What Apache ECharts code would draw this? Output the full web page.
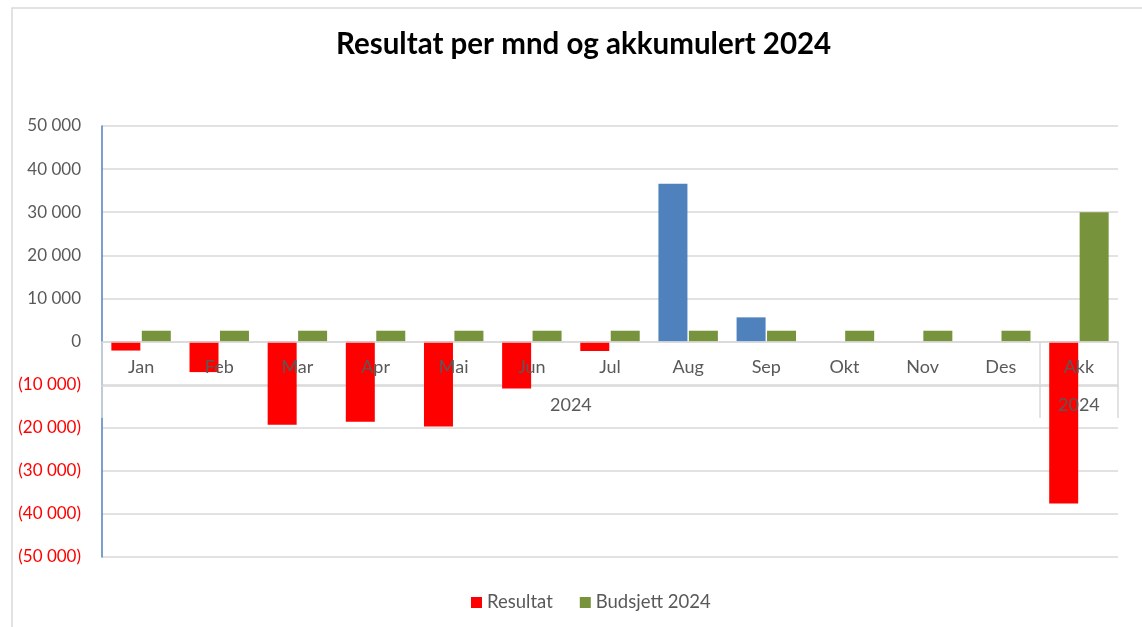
<!DOCTYPE html>
<html>
<head>
<meta charset="utf-8">
<script src="https://cdn.jsdelivr.net/npm/echarts@6/dist/echarts.min.js"></script>
<style>
  html, body { margin: 0; padding: 0; background: #fff; }
  #chart { width: 1142px; height: 627px; }
</style>
</head>
<body>
<div id="chart"></div>
<script>
// data
const months = ['Jan', 'Feb', 'Mar', 'Apr', 'Mai', 'Jun', 'Jul', 'Aug', 'Sep', 'Okt', 'Nov', 'Des', 'Akk'];
const resultat = [-2100, -7100, -19300, -18600, -19700, -10900, -2200, 36600, 5600, null, null, null, -37600];
const budsjett = [2500, 2500, 2500, 2500, 2500, 2500, 2500, 2500, 2500, 2500, 2500, 2500, 30000];
const groupLabels = ['2024', '2024'];
const groupCenters = [6, 12.5];
const groupBounds = [0, 12, 13];

const RED = '#FF0000';
const BLUE = '#4F81BD';
const GREEN = '#77933C';
const GRAY = '#595959';
const LINE = '#D9D9D9';
const FONT = 'Lato, "Open Sans", sans-serif';

function fmt(v) {
  const s = Math.abs(v).toString().replace(/\B(?=(\d{3})+(?!\d))/g, ' ');
  return v < 0 ? '(' + s + ')' : s;
}

const chart = echarts.init(document.getElementById('chart'));
chart.setOption({
  animation: false,
  textStyle: { fontFamily: FONT },
  graphic: [
    {
      type: 'rect',
      shape: { x: 12, y: 8, width: 1200, height: 700 },
      style: { fill: 'none', stroke: LINE, lineWidth: 1.5 },
      silent: true
    }
  ],
  title: {
    text: 'Resultat per mnd og akkumulert 2024',
    left: 331,
    top: 24,
    textStyle: { fontFamily: FONT, fontSize: 29.5, fontWeight: 'bold', color: '#000' }
  },
  legend: {
    bottom: 10,
    left: 466,
    icon: 'rect',
    itemWidth: 11,
    itemHeight: 11,
    itemGap: 27,
    textStyle: { fontFamily: FONT, fontSize: 18.5, color: GRAY },
    data: ['Resultat', 'Budsjett 2024']
  },
  grid: { left: 102, right: 24, top: 126, bottom: 70 },
  xAxis: [
    {
      // month level, sitting on the zero line; labels drawn over the bars
      type: 'category',
      data: months,
      position: 'bottom',
      offset: -215,
      axisLine: { onZero: false, lineStyle: { color: LINE, width: 1.5 } },
      axisTick: { show: false },
      axisLabel: { color: GRAY, fontSize: 18, fontFamily: FONT, margin: 16 },
      z: 5
    },
    {
      // second label level: "2024" groups with boundary ticks
      type: 'value',
      min: 0,
      max: 13,
      position: 'bottom',
      offset: -139,
      axisLine: { show: false, onZero: false },
      splitLine: { show: false },
      axisTick: {
        show: true,
        inside: true,
        length: 76,
        customValues: groupBounds,
        lineStyle: { color: LINE, width: 1.5 }
      },
      axisLabel: {
        inside: true,
        margin: 4,
        customValues: groupCenters,
        color: GRAY,
        fontSize: 18,
        fontFamily: FONT,
        formatter: function (v) {
          return groupLabels[groupCenters.indexOf(v)] || '';
        }
      },
      z: 5
    },
    {
      // separator between the two label levels (under the bars)
      type: 'value',
      min: 0,
      max: 13,
      position: 'bottom',
      offset: -171,
      axisLine: { show: true, onZero: false, lineStyle: { color: LINE, width: 1.5 } },
      axisTick: { show: false },
      axisLabel: { show: false },
      splitLine: { show: false },
      z: 1
    }
  ],
  yAxis: {
    type: 'value',
    min: -50000,
    max: 50000,
    interval: 10000,
    axisLine: { show: true, lineStyle: { color: BLUE, width: 1.5 } },
    axisTick: { show: false },
    splitLine: { lineStyle: { color: LINE, width: 1.5 } },
    axisLabel: {
      margin: 21,
      fontSize: 17,
      fontFamily: FONT,
      formatter: fmt,
      color: function (v) {
        return Number(v) < 0 ? RED : GRAY;
      }
    }
  },
  series: [
    {
      name: 'Resultat',
      type: 'bar',
      barWidth: 29,
      barGap: '5%',
      z: 2,
      itemStyle: { color: RED },
      data: resultat.map(function (v) {
        return v !== null && v > 0 ? { value: v, itemStyle: { color: BLUE } } : v;
      })
    },
    {
      name: 'Budsjett 2024',
      type: 'bar',
      barWidth: 29,
      barGap: '5%',
      z: 2,
      itemStyle: { color: GREEN },
      data: budsjett
    }
  ]
});
</script>
</body>
</html>
